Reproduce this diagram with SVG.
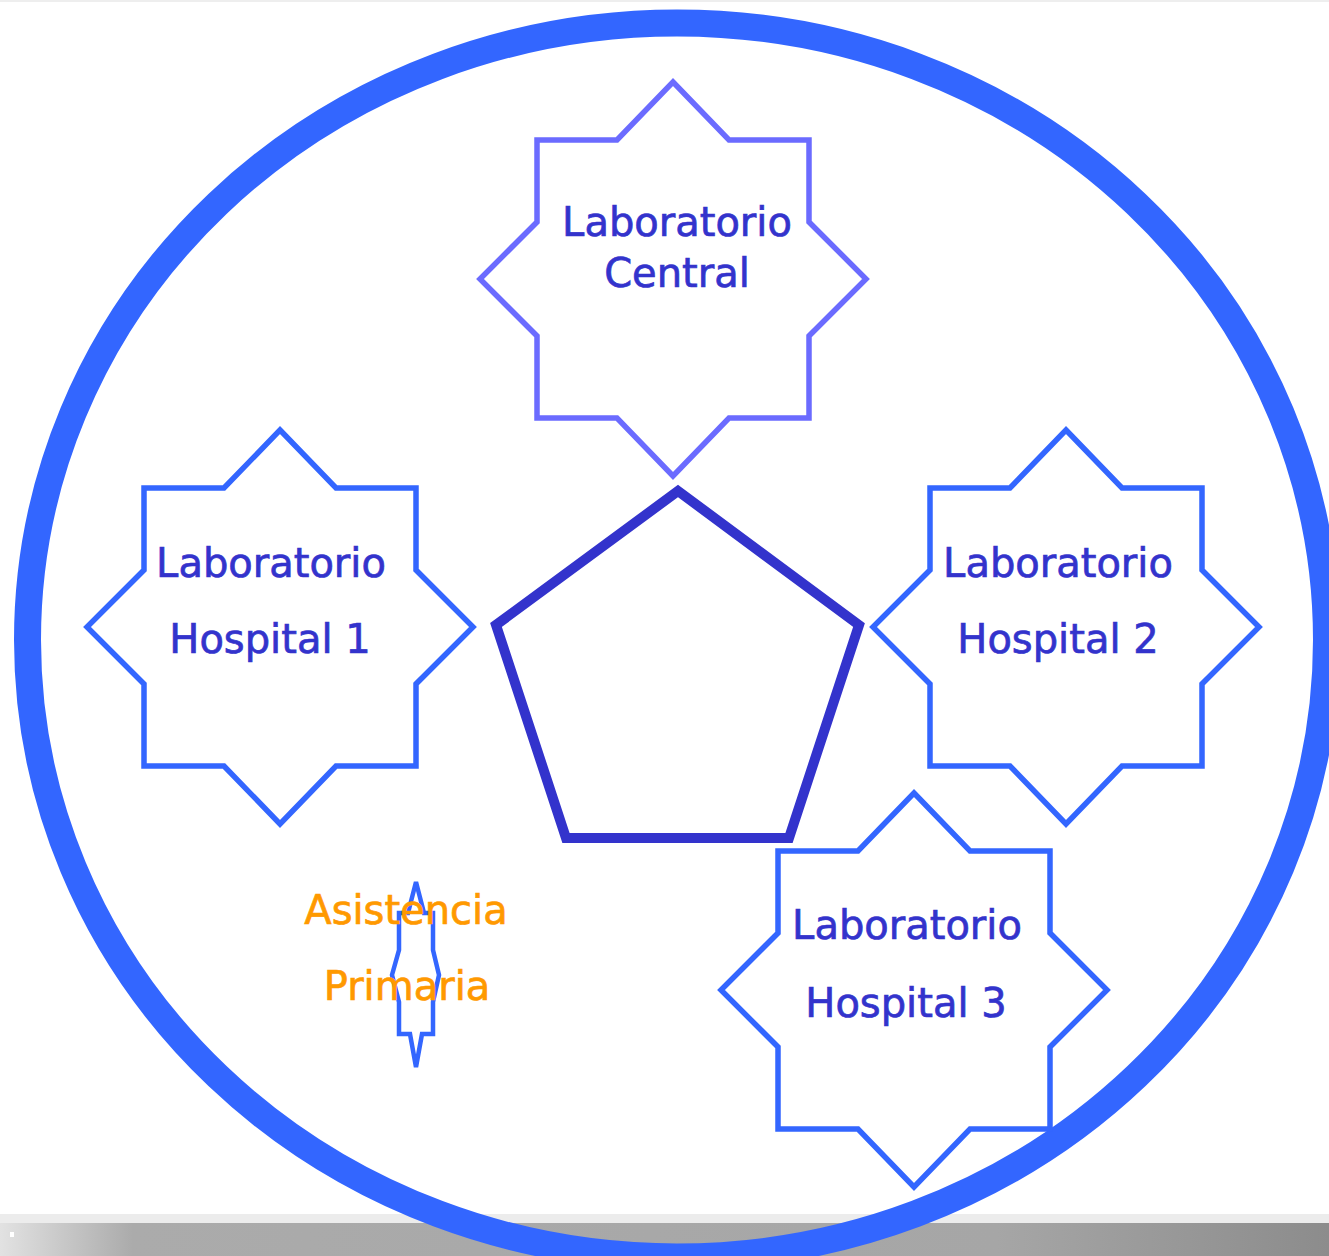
<svg xmlns="http://www.w3.org/2000/svg" xmlns:xlink="http://www.w3.org/1999/xlink" width="1329" height="1256" viewBox="0 0 1329 1256">
  <style>
    .star { fill: none; stroke-width: 5.5; stroke-linejoin: miter; }
    .lab { font-family: "DejaVu Sans", Verdana, sans-serif; font-size: 40px; fill: #3333CC; stroke: #3333CC; stroke-width: 0.7; text-anchor: middle; }
    .ap { font-family: "DejaVu Sans", Verdana, sans-serif; font-size: 40px; fill: #FF9900; stroke: #FF9900; stroke-width: 0.7; text-anchor: middle; }
  </style>
  <defs>
    <path id="star8" d="M0,-197 L56,-139 L136,-139 L136,-57 L193,0 L136,57 L136,139 L56,139 L0,197 L-56,139 L-136,139 L-136,57 L-193,0 L-136,-57 L-136,-139 L-56,-139 Z"/>
    <linearGradient id="bar" x1="0" y1="0" x2="1" y2="0">
      <stop offset="0" stop-color="#e2e2e2"/>
      <stop offset="0.1" stop-color="#ababab"/>
      <stop offset="0.75" stop-color="#a6a6a6"/>
      <stop offset="1" stop-color="#8c8c8c"/>
    </linearGradient>
  </defs>
  <rect width="1329" height="1256" fill="#ffffff"/>
  <rect x="0" y="0" width="1329" height="2" fill="#eeeeee"/>
  <rect x="0" y="1214" width="1329" height="9" fill="#ececec"/>
  <rect x="0" y="1223" width="1329" height="33" fill="url(#bar)"/>
  <rect x="10" y="1232" width="4" height="5" fill="#ffffff"/>

  <g id="boundary">
    <ellipse cx="677" cy="640" rx="649.5" ry="617" fill="none" stroke="#3366FF" stroke-width="27"/>
  </g>

  <g id="lab-central">
    <use xlink:href="#star8" href="#star8" x="673" y="279" class="star" stroke="#6B6BFF"/>
    <text class="lab" x="677" y="236">Laboratorio</text>
    <text class="lab" x="677" y="287">Central</text>
  </g>

  <g id="lab-hospital-1">
    <use xlink:href="#star8" href="#star8" x="280" y="627" class="star" stroke="#3366FF"/>
    <text class="lab" x="271" y="577">Laboratorio</text>
    <text class="lab" x="270" y="653">Hospital 1</text>
  </g>

  <g id="lab-hospital-2">
    <use xlink:href="#star8" href="#star8" x="1066" y="627" class="star" stroke="#3366FF"/>
    <text class="lab" x="1058" y="577">Laboratorio</text>
    <text class="lab" x="1058" y="653">Hospital 2</text>
  </g>

  <g id="lab-hospital-3">
    <use xlink:href="#star8" href="#star8" x="914" y="990" class="star" stroke="#3366FF"/>
    <text class="lab" x="907" y="939">Laboratorio</text>
    <text class="lab" x="906" y="1017">Hospital 3</text>
  </g>

  <g id="pentagon">
    <polygon points="678,491 859,625 789,838 566,838 496,625" fill="none" stroke="#3333CC" stroke-width="10" stroke-linejoin="miter"/>
  </g>

  <g id="connectors">
    <path d="M416,882 L424,913 L433,913 L433,950 L439,975 L433,1002 L433,1034 L422,1034 L416,1067 L410,1034 L399,1034 L399,1002 L392,975 L399,950 L399,913 L408,913 Z" fill="none" stroke="#3366FF" stroke-width="4.5"/>
  </g>

  <g id="asistencia-primaria">
    <text class="ap" x="406" y="924">Asistencia</text>
    <text class="ap" x="407" y="1000">Primaria</text>
  </g>
</svg>
